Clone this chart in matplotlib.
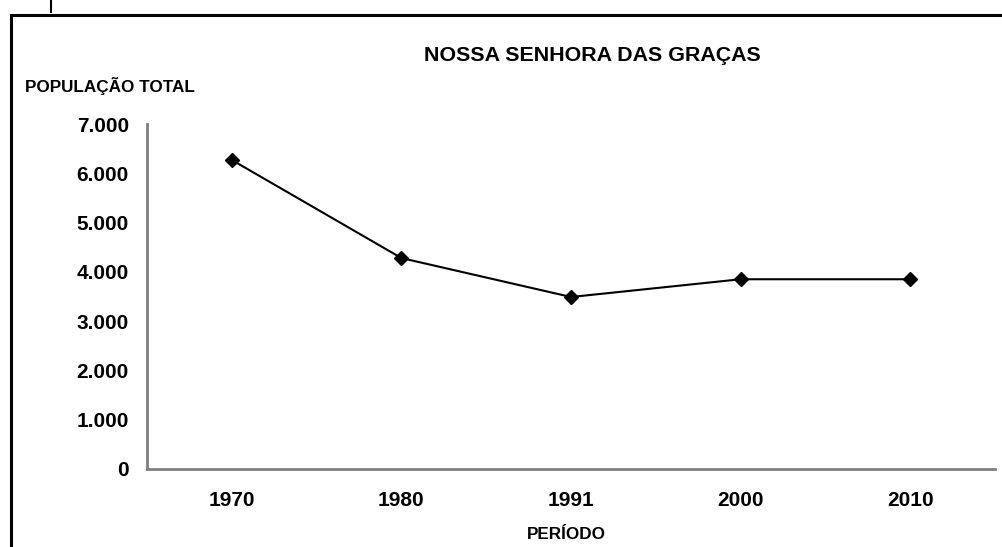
import matplotlib
matplotlib.use('Agg')
import matplotlib.pyplot as plt
from matplotlib.lines import Line2D
from matplotlib.patches import Rectangle
from matplotlib.ticker import FuncFormatter

plt.rcParams['font.family'] = ['Liberation Sans', 'DejaVu Sans']
plt.rcParams['font.weight'] = 'bold'

periodos = ['1970', '1980', '1991', '2000', '2010']
populacao = [6270, 4280, 3490, 3850, 3850]


def milhar(v, pos):
    # separador de milhar com ponto
    return '{:,.0f}'.format(v).replace(',', '.')


fig = plt.figure(figsize=(10.03, 5.47), dpi=100)
ax = fig.add_axes([0.1466, 0.1426, 0.8454, 0.6307])

x = list(range(len(periodos)))
ax.plot(x, populacao, color='black', linewidth=1.5, marker='D', markersize=7.5)

ax.set_xlim(-0.5, len(periodos) - 0.5)
ax.set_ylim(0, 7000)
ax.set_yticks(range(0, 7001, 1000))
ax.yaxis.set_major_formatter(FuncFormatter(milhar))
ax.set_xticks(x)
ax.set_xticklabels(periodos)
ax.tick_params(axis='y', length=0, pad=13, labelsize=15)
ax.tick_params(axis='x', length=0, pad=16, labelsize=15)

for s in ['top', 'right']:
    ax.spines[s].set_visible(False)
for s in ['left', 'bottom']:
    ax.spines[s].set_color('#808080')
    ax.spines[s].set_linewidth(2)

fig.text(0.591, 0.899, 'NOSSA SENHORA DAS GRAÇAS', ha='center', va='center', fontsize=15.4, fontweight='bold')
fig.text(0.025, 0.843, 'POPULAÇÃO TOTAL', ha='left', va='center', fontsize=12.3, fontweight='bold')
fig.text(0.565, 0.022, 'PERÍODO', ha='center', va='center', fontsize=12.3, fontweight='bold')

# moldura
fig.patches.append(Rectangle((0.0105, -0.05), 1.1, 1 - 0.0274 + 0.05, transform=fig.transFigure,
                             fill=False, edgecolor='black', linewidth=2.2))
fig.add_artist(Line2D([0.0505, 0.0505], [1.0, 0.978], color='black', linewidth=1.5))

fig.savefig('out.png', dpi=100)
plt.close()
